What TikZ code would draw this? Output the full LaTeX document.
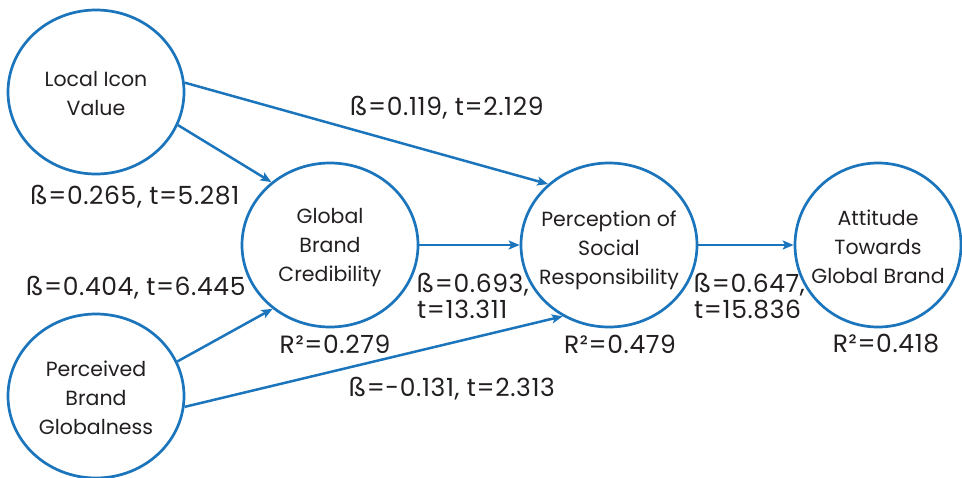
\documentclass[tikz,border=0pt]{standalone}
\usepackage{fontspec}
\setmainfont{Poppins}
\newfontfamily\coeffont[LetterSpace=2.5]{Poppins}
\usetikzlibrary{shapes.geometric,arrows.meta}
\definecolor{pathblue}{RGB}{27,117,188}
\definecolor{ink}{RGB}{35,31,32}
\tikzset{
  construct/.style={draw=pathblue, line width=2.7pt, ellipse, inner sep=0pt,
    minimum width=176pt, minimum height=164pt},
  construct name/.style={align=center, inner sep=0pt,
    text=ink, font=\fontsize{20.5}{29}\selectfont},
  path arrow/.style={draw=pathblue, line width=2.5pt,
    -{Stealth[length=11pt,width=9pt,inset=2.5pt]}},
  coef/.style={text=ink, inner sep=0pt, font=\coeffont\fontsize{25}{26}\selectfont},
}
\begin{document}
\begin{tikzpicture}[x=1pt,y=-1pt]
\useasboundingbox[fill=white] (0,0) rectangle (962,477);

% latent constructs (outlines)
\node[construct] (liv) at (96,92)  {};
\node[construct] (pbg) at (96,396) {};
\node[construct] (gbc) at (330,245) {};
\node[construct] (psr) at (609,245) {};
\node[construct, minimum width=166pt] (atg) at (878,245) {};

% construct names
\node[construct name] (liv-t) at ([yshift=-1.5pt]liv.center) {Local Icon\\Value};
\node[construct name] (pbg-t) at ([yshift=-1.5pt]pbg.center) {Perceived\\Brand\\Globalness};
\node[construct name] (gbc-t) at ([yshift=-2.5pt]gbc.center) {Global\\Brand\\Credibility};
\node[construct name] (psr-t) at ([yshift=-5pt]psr.center) {Perception of\\Social\\Responsibility};
\node[construct name] (atg-t) at ([yshift=-1.5pt]atg.center) {Attitude\\Towards\\Global Brand};

% structural paths
\draw[path arrow] (liv.-22) -- (gbc.133);
\draw[path arrow] (liv.6)   -- (psr.135);
\draw[path arrow] (pbg.23)  -- (gbc.-132);
\draw[path arrow] (pbg.-7)  -- (psr.-123);
\draw[path arrow] (gbc.east) -- (psr.west);
\draw[path arrow] (psr.east) -- (atg.west);

% path coefficients
\node[coef] (c1) at (447,108) {ß=0.119, t=2.129};
\node[coef] (c2) at (135,197) {ß=0.265, t=5.281};
\node[coef] (c3) at (136,288) {ß=0.404, t=6.445};
\node[coef] (c4) at (452,389) {ß=-0.131, t=2.313};
\node[coef, anchor=west, align=left] (c5) at (417,296) {ß=0.693,\\t=13.311};
\node[coef, anchor=west, align=left] (c6) at (694,296) {ß=0.647,\\t=15.836};

% explained variance
\node[coef] (r1) at (335,344) {R²=0.279};
\node[coef] (r2) at (620,344) {R²=0.479};
\node[coef] (r3) at (886,344) {R²=0.418};
\end{tikzpicture}
\end{document}
